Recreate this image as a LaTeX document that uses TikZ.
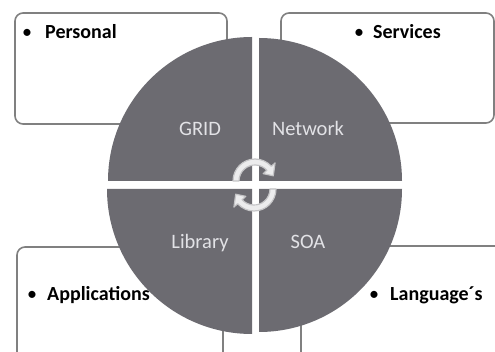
\documentclass[tikz,border=0pt]{standalone}
\usepackage{fontspec}
\setmainfont{Carlito}
\definecolor{quadfill}{RGB}{108,107,113}
\definecolor{quadtext}{RGB}{226,226,230}
\definecolor{boxline}{RGB}{128,128,128}
\definecolor{arrline}{RGB}{196,196,198}
\definecolor{arrfill}{RGB}{236,236,237}
\begin{document}
\begin{tikzpicture}[x=1pt,y=1pt,
  infobox/.style={draw=boxline,line width=1.6pt,fill=white,rounded corners=8pt},
  boxtext/.style={font=\fontsize{20}{24}\selectfont\bfseries,text=black,inner sep=0pt,anchor=base west},
  bulletmark/.style={font=\fontsize{20}{24}\selectfont,text=black,inner sep=0pt,anchor=base},
  quad/.style={fill=quadfill},
  quadlabel/.style={font=\fontsize{20.5}{24}\selectfont,text=quadtext,inner sep=0pt,anchor=base},
  cyclearrow/.style={draw=arrline,fill=arrfill,line width=1.2pt,line join=round}]
\useasboundingbox (0,0) rectangle (495,-352);
% boxes
\draw[infobox] (15,-13) rectangle (227,-124);
\draw[infobox] (281,-13) rectangle (494,-123);
\draw[infobox] (17,-247) rectangle (223,-360);
\draw[infobox] (301,-246) rectangle (516,-360);
% box texts
\node[bulletmark] (b1) at (27,-39) {•};
\node[boxtext] (t1) at (45,-39) {Personal};
\node[bulletmark] (b2) at (359,-39) {•};
\node[boxtext] (t2) at (373,-39) {Services};
\node[bulletmark] (b3) at (32,-301) {•};
\node[boxtext] (t3) at (47,-301) {Applications};
\node[bulletmark] (b4) at (374,-301) {•};
\node[boxtext] (t4) at (390,-301) {Language´s};
% quadrants
\fill[quad] (252,-181) -- (108,-181) arc[start angle=180,end angle=90,radius=144pt] -- cycle;
\fill[quad] (259,-181) -- (259,-38) arc[start angle=90,end angle=0,radius=143pt] -- cycle;
\fill[quad] (252,-189) -- (252,-334) arc[start angle=270,end angle=180,radius=145pt] -- cycle;
\fill[quad] (259,-189) -- (402,-189) arc[start angle=0,end angle=-90,radius=143pt] -- cycle;
% quadrant labels
\node[quadlabel] (grid) at (200,-136) {GRID};
\node[quadlabel] (net) at (308,-136) {Network};
\node[quadlabel] (lib) at (200,-249) {Library};
\node[quadlabel] (soa) at (308,-249) {SOA};
% cycle arrows
\begin{scope}[shift={(255,-181)}]
\draw[cyclearrow] (180:22pt) arc[start angle=180,end angle=42,radius=22pt] -- (42:27pt) -- (16:19pt) -- (42:11pt) -- (42:16pt) arc[start angle=42,end angle=180,radius=16pt] -- cycle;
\end{scope}
\begin{scope}[shift={(254,-189)}]
\draw[cyclearrow] (0:22pt) arc[start angle=0,end angle=-138,radius=22pt] -- (-138:27pt) -- (-164:19pt) -- (-138:11pt) -- (-138:16pt) arc[start angle=-138,end angle=0,radius=16pt] -- cycle;
\end{scope}
\end{tikzpicture}
\end{document}
